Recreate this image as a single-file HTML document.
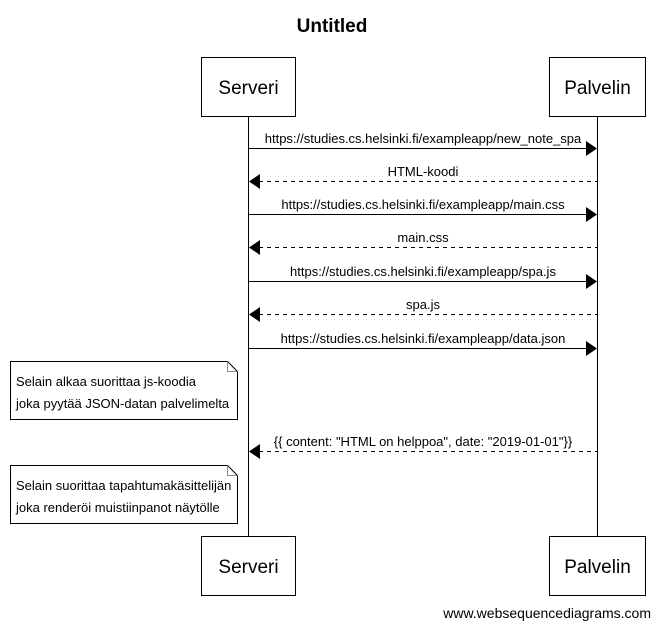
<!DOCTYPE html>
<html><head><meta charset="utf-8"><style>
html,body{margin:0;padding:0;background:#fff;}
svg{display:block;font-family:"Liberation Sans",Arial,sans-serif;}
</style></head><body>
<svg width="660" height="629" viewBox="0 0 660 629" xmlns="http://www.w3.org/2000/svg">
<text x="332" y="32" font-size="19" font-weight="bold" text-anchor="middle">Untitled</text>
<g fill="#fff" stroke="#000" stroke-width="1">
<rect x="201.5" y="57.5" width="94" height="59"/>
<rect x="549.5" y="57.5" width="96" height="59"/>
<rect x="201.5" y="536.5" width="94" height="59"/>
<rect x="549.5" y="536.5" width="96" height="59"/>
</g>
<g stroke="#000" stroke-width="1">
<line x1="248.5" y1="117" x2="248.5" y2="536"/>
<line x1="597.5" y1="117" x2="597.5" y2="536"/>
</g>
<g font-size="19" text-anchor="middle">
<text x="248.5" y="94">Serveri</text>
<text x="597.5" y="94">Palvelin</text>
<text x="248.5" y="573">Serveri</text>
<text x="597.5" y="573">Palvelin</text>
</g>
<g stroke="#000" stroke-width="1">
<line x1="248" y1="148.5" x2="587" y2="148.5"/>
<line x1="259" y1="181.5" x2="597" y2="181.5" stroke-dasharray="4,4"/>
<line x1="248" y1="214.5" x2="587" y2="214.5"/>
<line x1="259" y1="247.5" x2="597" y2="247.5" stroke-dasharray="4,4"/>
<line x1="248" y1="281.5" x2="587" y2="281.5"/>
<line x1="259" y1="314.5" x2="597" y2="314.5" stroke-dasharray="4,4"/>
<line x1="248" y1="348.5" x2="587" y2="348.5"/>
<line x1="259" y1="451.5" x2="597" y2="451.5" stroke-dasharray="4,4"/>
</g>
<g fill="#000">
<polygon points="586,141 597,148.5 586,156"/>
<polygon points="260,174 249,181.5 260,189"/>
<polygon points="586,207 597,214.5 586,222"/>
<polygon points="260,240 249,247.5 260,255"/>
<polygon points="586,274 597,281.5 586,289"/>
<polygon points="260,307 249,314.5 260,322"/>
<polygon points="586,341 597,348.5 586,356"/>
<polygon points="260,444 249,451.5 260,459"/>
</g>
<g font-size="13" text-anchor="middle">
<text x="423" y="143">https://studies.cs.helsinki.fi/exampleapp/new_note_spa</text>
<text x="423" y="176">HTML-koodi</text>
<text x="423" y="209">https://studies.cs.helsinki.fi/exampleapp/main.css</text>
<text x="423" y="242">main.css</text>
<text x="423" y="276">https://studies.cs.helsinki.fi/exampleapp/spa.js</text>
<text x="423" y="309">spa.js</text>
<text x="423" y="343">https://studies.cs.helsinki.fi/exampleapp/data.json</text>
<text x="423" y="446">{{ content: "HTML on helppoa", date: "2019-01-01"}}</text>
</g>
<g fill="#fff" stroke="#000" stroke-width="1">
<path d="M10.5 361.5 H227.5 L237.5 371.5 V419.5 H10.5 Z"/>
<path d="M227.5 361.5 V371.5 H237.5" fill="none" stroke="#888"/>
<path d="M10.5 465.5 H227.5 L237.5 475.5 V523.5 H10.5 Z"/>
<path d="M227.5 465.5 V475.5 H237.5" fill="none" stroke="#888"/>
</g>
<g font-size="13">
<text x="16" y="386">Selain alkaa suorittaa js-koodia</text>
<text x="16" y="408">joka pyytää JSON-datan palvelimelta</text>
<text x="16" y="490">Selain suorittaa tapahtumakäsittelijän</text>
<text x="16" y="512">joka renderöi muistiinpanot näytölle</text>
</g>
<text x="651" y="618" font-size="14" text-anchor="end">www.websequencediagrams.com</text>
</svg>
</body></html>
